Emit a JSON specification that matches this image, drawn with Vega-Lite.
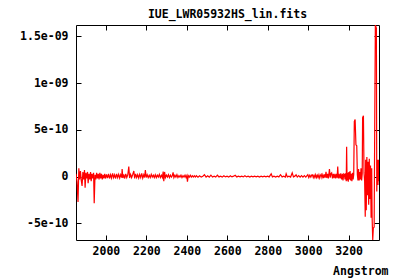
{
  "$schema": "https://vega.github.io/schema/vega-lite/v6.json",
  "width": 303,
  "height": 215,
  "autosize": {"type": "none"},
  "padding": {"left": 76, "top": 25, "right": 21, "bottom": 40},
  "background": "white",
  "config": {
    "view": {"stroke": "black", "strokeWidth": 1},
    "axis": {
      "domain": false,
      "grid": false,
      "ticks": true,
      "tickColor": "black",
      "tickSize": -5,
      "tickWidth": 1,
      "labelFont": "DejaVu Sans Mono",
      "labelFontWeight": "bold",
      "labelFontSize": 11.5,
      "labelColor": "black",
      "titleFont": "DejaVu Sans Mono",
      "titleFontWeight": "bold",
      "titleFontSize": 11.5,
      "titleColor": "black"
    }
  },
  "title": {
    "text": "IUE_LWR05932HS_lin.fits",
    "font": "DejaVu Sans Mono",
    "fontSize": 11.5,
    "fontWeight": "bold",
    "color": "black",
    "anchor": "middle",
    "baseline": "alphabetic",
    "offset": -5
  },
  "data": {
    "values": [
      {"wave": 1852, "flux": 3e-11}, {"wave": 1857, "flux": -5e-11}, {"wave": 1862, "flux": -2.7e-10}, {"wave": 1866, "flux": 9e-11},
      {"wave": 1870, "flux": -3e-11}, {"wave": 1874, "flux": 6e-11}, {"wave": 1878, "flux": -4e-11}, {"wave": 1882, "flux": -1.0e-10},
      {"wave": 1886, "flux": 5e-11}, {"wave": 1890, "flux": -3e-11}, {"wave": 1894, "flux": 7e-11}, {"wave": 1897, "flux": -1.2e-10},
      {"wave": 1901, "flux": 4e-11}, {"wave": 1905, "flux": -2e-11}, {"wave": 1909, "flux": 5e-11}, {"wave": 1912, "flux": -7e-11},
      {"wave": 1916, "flux": 3e-11}, {"wave": 1920, "flux": -3e-11}, {"wave": 1924, "flux": 5e-11}, {"wave": 1927, "flux": -5e-11},
      {"wave": 1931, "flux": 3e-11}, {"wave": 1935, "flux": -2e-11}, {"wave": 1939, "flux": 4e-11}, {"wave": 1942, "flux": -2.85e-10},
      {"wave": 1946, "flux": 2e-11}, {"wave": 1950, "flux": -3e-11}, {"wave": 1954, "flux": 4e-11}, {"wave": 1958, "flux": -2e-11},
      {"wave": 1962, "flux": 3e-11}, {"wave": 1966, "flux": -3e-11}, {"wave": 1970, "flux": 4e-11}, {"wave": 1974, "flux": -2e-11},
      {"wave": 1978, "flux": 3e-11}, {"wave": 1982, "flux": -3e-11}, {"wave": 1986, "flux": 2e-11}, {"wave": 1990, "flux": -2e-11},
      {"wave": 1994, "flux": 3e-11}, {"wave": 1998, "flux": -2e-11},
      {"wave": 2003, "flux": 2.5e-11}, {"wave": 2008, "flux": -1.5e-11}, {"wave": 2013, "flux": 3e-11}, {"wave": 2018, "flux": -2e-11},
      {"wave": 2023, "flux": 2e-11}, {"wave": 2028, "flux": -1.5e-11}, {"wave": 2033, "flux": 3.5e-11}, {"wave": 2038, "flux": -1e-11},
      {"wave": 2043, "flux": 2e-11}, {"wave": 2048, "flux": -2e-11}, {"wave": 2053, "flux": 3e-11}, {"wave": 2058, "flux": -1e-11},
      {"wave": 2063, "flux": 2.5e-11}, {"wave": 2068, "flux": -1.5e-11}, {"wave": 2073, "flux": 2e-11}, {"wave": 2078, "flux": -1e-11},
      {"wave": 2080, "flux": 8e-11}, {"wave": 2084, "flux": -1.5e-11}, {"wave": 2088, "flux": 2.5e-11}, {"wave": 2093, "flux": -2e-11},
      {"wave": 2098, "flux": 3e-11}, {"wave": 2103, "flux": -1e-11}, {"wave": 2108, "flux": 2e-11}, {"wave": 2113, "flux": 1.07e-10},
      {"wave": 2117, "flux": -1.5e-11}, {"wave": 2122, "flux": 2.5e-11}, {"wave": 2127, "flux": -1e-11}, {"wave": 2132, "flux": 2e-11},
      {"wave": 2138, "flux": 6e-11}, {"wave": 2142, "flux": -2e-11}, {"wave": 2147, "flux": 3e-11}, {"wave": 2152, "flux": -1e-11},
      {"wave": 2157, "flux": 2e-11}, {"wave": 2162, "flux": -1.5e-11}, {"wave": 2167, "flux": 2.5e-11}, {"wave": 2172, "flux": -1e-11},
      {"wave": 2177, "flux": 3.5e-11}, {"wave": 2182, "flux": -1.5e-11}, {"wave": 2187, "flux": 2e-11}, {"wave": 2191, "flux": -1e-11},
      {"wave": 2195, "flux": 7e-11}, {"wave": 2199, "flux": -1e-11},
      {"wave": 2204, "flux": 2e-11}, {"wave": 2209, "flux": -1e-11}, {"wave": 2214, "flux": 1.5e-11}, {"wave": 2219, "flux": -1e-11},
      {"wave": 2224, "flux": 2.5e-11}, {"wave": 2229, "flux": -5e-12}, {"wave": 2234, "flux": 1.5e-11}, {"wave": 2239, "flux": -1e-11},
      {"wave": 2244, "flux": 2e-11}, {"wave": 2249, "flux": -1e-11}, {"wave": 2254, "flux": 1.5e-11}, {"wave": 2259, "flux": -5e-12},
      {"wave": 2264, "flux": 2.5e-11}, {"wave": 2269, "flux": -1e-11}, {"wave": 2274, "flux": 1.5e-11}, {"wave": 2279, "flux": -1e-11},
      {"wave": 2283, "flux": 5.5e-11}, {"wave": 2286, "flux": -5e-11}, {"wave": 2290, "flux": 5e-11}, {"wave": 2294, "flux": -1e-11},
      {"wave": 2299, "flux": 1.5e-11}, {"wave": 2304, "flux": -5e-12}, {"wave": 2309, "flux": 2e-11}, {"wave": 2314, "flux": -1e-11},
      {"wave": 2319, "flux": 1.5e-11}, {"wave": 2324, "flux": -5e-12}, {"wave": 2328, "flux": 1e-11}, {"wave": 2332, "flux": 4.5e-11},
      {"wave": 2336, "flux": -1e-11}, {"wave": 2341, "flux": 1.5e-11}, {"wave": 2346, "flux": -5e-12}, {"wave": 2351, "flux": 2e-11},
      {"wave": 2356, "flux": -1e-11}, {"wave": 2361, "flux": 1e-11}, {"wave": 2366, "flux": -5e-12}, {"wave": 2371, "flux": 1.5e-11},
      {"wave": 2376, "flux": -1e-11}, {"wave": 2381, "flux": 1e-11}, {"wave": 2386, "flux": -5e-12}, {"wave": 2391, "flux": 1.5e-11},
      {"wave": 2396, "flux": -1e-11}, {"wave": 2400, "flux": 1e-11}, {"wave": 2403, "flux": -5.5e-11}, {"wave": 2407, "flux": 1e-11},
      {"wave": 2412, "flux": -5e-12}, {"wave": 2417, "flux": 1.5e-11}, {"wave": 2422, "flux": -5e-12}, {"wave": 2427, "flux": 1e-11},
      {"wave": 2432, "flux": -5e-12}, {"wave": 2437, "flux": 1e-11}, {"wave": 2442, "flux": -5e-12}, {"wave": 2447, "flux": 1e-11},
      {"wave": 2455, "flux": -5e-12}, {"wave": 2463, "flux": 1e-11}, {"wave": 2471, "flux": -5e-12}, {"wave": 2479, "flux": 5e-12},
      {"wave": 2487, "flux": 2e-11}, {"wave": 2495, "flux": -5e-12}, {"wave": 2503, "flux": 1e-11}, {"wave": 2511, "flux": -5e-12},
      {"wave": 2519, "flux": 1.5e-11}, {"wave": 2527, "flux": -5e-12}, {"wave": 2535, "flux": 5e-12}, {"wave": 2543, "flux": -5e-12},
      {"wave": 2551, "flux": 1.5e-11}, {"wave": 2559, "flux": -3e-12}, {"wave": 2567, "flux": 5e-12}, {"wave": 2575, "flux": -5e-12},
      {"wave": 2583, "flux": 1e-11}, {"wave": 2591, "flux": -3e-12}, {"wave": 2599, "flux": 5e-12}, {"wave": 2607, "flux": -5e-12},
      {"wave": 2615, "flux": 1e-11}, {"wave": 2623, "flux": -3e-12}, {"wave": 2631, "flux": 5e-12}, {"wave": 2639, "flux": 1.5e-11},
      {"wave": 2647, "flux": -3e-12}, {"wave": 2655, "flux": 5e-12}, {"wave": 2663, "flux": -3e-12}, {"wave": 2671, "flux": 5e-12},
      {"wave": 2679, "flux": -3e-12}, {"wave": 2687, "flux": 1e-11}, {"wave": 2695, "flux": -3e-12}, {"wave": 2703, "flux": 5e-12},
      {"wave": 2711, "flux": -5e-12}, {"wave": 2719, "flux": 5e-12}, {"wave": 2727, "flux": -3e-12}, {"wave": 2735, "flux": 5e-12},
      {"wave": 2743, "flux": -3e-12}, {"wave": 2751, "flux": 5e-12}, {"wave": 2759, "flux": -5e-12}, {"wave": 2767, "flux": 5e-12},
      {"wave": 2775, "flux": -3e-12}, {"wave": 2783, "flux": 5e-12}, {"wave": 2791, "flux": -3e-12}, {"wave": 2799, "flux": 5e-12},
      {"wave": 2807, "flux": -3e-12}, {"wave": 2817, "flux": 3e-11}, {"wave": 2823, "flux": -3e-12}, {"wave": 2831, "flux": 5e-12},
      {"wave": 2839, "flux": -5e-12}, {"wave": 2847, "flux": 5e-12}, {"wave": 2855, "flux": -3e-12}, {"wave": 2863, "flux": 2e-11},
      {"wave": 2871, "flux": -3e-12}, {"wave": 2879, "flux": 5e-12}, {"wave": 2887, "flux": -5e-12}, {"wave": 2891, "flux": 3e-11},
      {"wave": 2897, "flux": -3e-12}, {"wave": 2905, "flux": 5e-12}, {"wave": 2913, "flux": -5e-12}, {"wave": 2921, "flux": 4e-11},
      {"wave": 2927, "flux": -3e-12}, {"wave": 2934, "flux": 5e-12}, {"wave": 2940, "flux": 2e-11}, {"wave": 2946, "flux": -5e-12},
      {"wave": 2953, "flux": 1e-11}, {"wave": 2960, "flux": -5e-12}, {"wave": 2967, "flux": 1e-11}, {"wave": 2974, "flux": -5e-12},
      {"wave": 2981, "flux": 1e-11}, {"wave": 2988, "flux": -5e-12}, {"wave": 2994, "flux": 1e-11}, {"wave": 2998, "flux": 2e-11},
      {"wave": 3003, "flux": -1e-11}, {"wave": 3008, "flux": 1.5e-11}, {"wave": 3013, "flux": -5e-12}, {"wave": 3018, "flux": 2e-11},
      {"wave": 3021, "flux": 2e-11}, {"wave": 3025, "flux": -1e-11}, {"wave": 3029, "flux": 1.5e-11}, {"wave": 3033, "flux": -1e-11},
      {"wave": 3037, "flux": 2e-11}, {"wave": 3041, "flux": -1e-11}, {"wave": 3045, "flux": 1.5e-11}, {"wave": 3049, "flux": -1e-11},
      {"wave": 3053, "flux": 2e-11}, {"wave": 3057, "flux": -1.5e-11}, {"wave": 3061, "flux": 1.5e-11}, {"wave": 3064, "flux": 2.5e-11},
      {"wave": 3068, "flux": -1e-11}, {"wave": 3072, "flux": 2e-11}, {"wave": 3076, "flux": -1.5e-11}, {"wave": 3080, "flux": 2.5e-11},
      {"wave": 3084, "flux": -1e-11}, {"wave": 3088, "flux": 5e-11}, {"wave": 3092, "flux": -1.5e-11}, {"wave": 3096, "flux": 3e-11},
      {"wave": 3100, "flux": -2e-11}, {"wave": 3105, "flux": 8e-11}, {"wave": 3109, "flux": -1e-11}, {"wave": 3112, "flux": 3e-11},
      {"wave": 3116, "flux": 4e-11}, {"wave": 3120, "flux": -2e-11}, {"wave": 3124, "flux": 3e-11}, {"wave": 3128, "flux": -1.5e-11},
      {"wave": 3132, "flux": 3e-11}, {"wave": 3136, "flux": -2e-11}, {"wave": 3140, "flux": 3e-11}, {"wave": 3143, "flux": -1e-11},
      {"wave": 3146, "flux": 1.07e-10}, {"wave": 3149, "flux": -2e-11}, {"wave": 3153, "flux": 3e-11}, {"wave": 3157, "flux": -2e-11},
      {"wave": 3161, "flux": 3.5e-11}, {"wave": 3165, "flux": -3e-11}, {"wave": 3169, "flux": 3e-11}, {"wave": 3172, "flux": -4e-11},
      {"wave": 3176, "flux": 3e-11}, {"wave": 3179, "flux": 2.5e-11}, {"wave": 3182, "flux": -3e-11}, {"wave": 3185, "flux": 3.5e-11},
      {"wave": 3188, "flux": -5e-11}, {"wave": 3190, "flux": 3.2e-10}, {"wave": 3192, "flux": -4e-11},
      {"wave": 3195, "flux": 4e-11}, {"wave": 3198, "flux": -5.5e-11}, {"wave": 3201, "flux": 5e-11}, {"wave": 3204, "flux": -3e-11},
      {"wave": 3207, "flux": 6e-11}, {"wave": 3210, "flux": -4e-11}, {"wave": 3213, "flux": 3e-11}, {"wave": 3216, "flux": -5e-11},
      {"wave": 3219, "flux": 4e-11}, {"wave": 3222, "flux": -3e-11}, {"wave": 3225, "flux": 2e-11}, {"wave": 3228, "flux": 5.9e-10},
      {"wave": 3232, "flux": 6.1e-10}, {"wave": 3236, "flux": 3.4e-10}, {"wave": 3240, "flux": 3.3e-10}, {"wave": 3243, "flux": 2e-11},
      {"wave": 3246, "flux": -4e-11}, {"wave": 3249, "flux": 8e-11}, {"wave": 3252, "flux": -4e-11}, {"wave": 3255, "flux": 5e-11},
      {"wave": 3258, "flux": -3e-11}, {"wave": 3261, "flux": 9e-11}, {"wave": 3264, "flux": -4e-11}, {"wave": 3267, "flux": 3e-11},
      {"wave": 3269, "flux": 6.3e-10}, {"wave": 3273, "flux": 6.5e-10}, {"wave": 3276, "flux": 4e-11}, {"wave": 3279, "flux": -5e-11},
      {"wave": 3282, "flux": -4.3e-10}, {"wave": 3284, "flux": 1.8e-10}, {"wave": 3287, "flux": -3.6e-10}, {"wave": 3290, "flux": 2.1e-10},
      {"wave": 3293, "flux": -2.0e-10}, {"wave": 3296, "flux": 1.6e-10}, {"wave": 3299, "flux": -3.0e-10}, {"wave": 3302, "flux": 1.9e-10},
      {"wave": 3305, "flux": -2.4e-10}, {"wave": 3308, "flux": 1.2e-10}, {"wave": 3311, "flux": -4.4e-10}, {"wave": 3314, "flux": 9e-11},
      {"wave": 3316, "flux": -4.4e-10}, {"wave": 3319, "flux": -6.78e-10}, {"wave": 3322, "flux": -5.5e-10}, {"wave": 3326, "flux": -5.4e-10},
      {"wave": 3329, "flux": 6.0e-10}, {"wave": 3332, "flux": 1.622e-9}, {"wave": 3337, "flux": 1.59e-9}, {"wave": 3339, "flux": -1.6e-10},
      {"wave": 3342, "flux": 1.8e-10}, {"wave": 3345, "flux": -9e-11}, {"wave": 3347, "flux": 1.8e-10}, {"wave": 3349, "flux": -5e-11}
    ]
  },
  "layer": [
    {
      "mark": {"type": "line", "color": "#ff0000", "strokeWidth": 1.2, "clip": true},
      "encoding": {
        "x": {
          "field": "wave", "type": "quantitative",
          "scale": {"domain": [1852, 3350], "nice": false, "zero": false},
          "axis": {
            "orient": "bottom",
            "values": [2000, 2200, 2400, 2600, 2800, 3000, 3200],
            "format": "d",
            "labelPadding": 10,
            "title": "Angstrom",
            "titleAnchor": "end",
            "titleAlign": "right",
            "titleX": 312,
            "titleY": 34,
            "titleBaseline": "alphabetic"
          }
        },
        "y": {
          "field": "flux", "type": "quantitative",
          "scale": {"domain": [-6.78e-10, 1.622e-9], "nice": false, "zero": false},
          "axis": {
            "orient": "left",
            "values": [-5e-10, 0, 5e-10, 1e-9, 1.5e-9],
            "labelExpr": "datum.value > 1.4e-9 ? '1.5e-09' : datum.value > 0.9e-9 ? '1e-09' : datum.value > 0.4e-9 ? '5e-10' : datum.value < -0.4e-9 ? '-5e-10' : '0'",
            "labelPadding": 13,
            "title": null
          }
        }
      }
    },
    {
      "mark": {"type": "line", "opacity": 0},
      "encoding": {
        "x": {
          "field": "wave", "type": "quantitative",
          "axis": {"orient": "top", "values": [2000, 2200, 2400, 2600, 2800, 3000, 3200], "labels": false, "title": null}
        },
        "y": {
          "field": "flux", "type": "quantitative",
          "axis": {"orient": "right", "values": [-5e-10, 0, 5e-10, 1e-9, 1.5e-9], "labels": false, "title": null}
        }
      }
    }
  ],
  "resolve": {"axis": {"x": "independent", "y": "independent"}}
}
